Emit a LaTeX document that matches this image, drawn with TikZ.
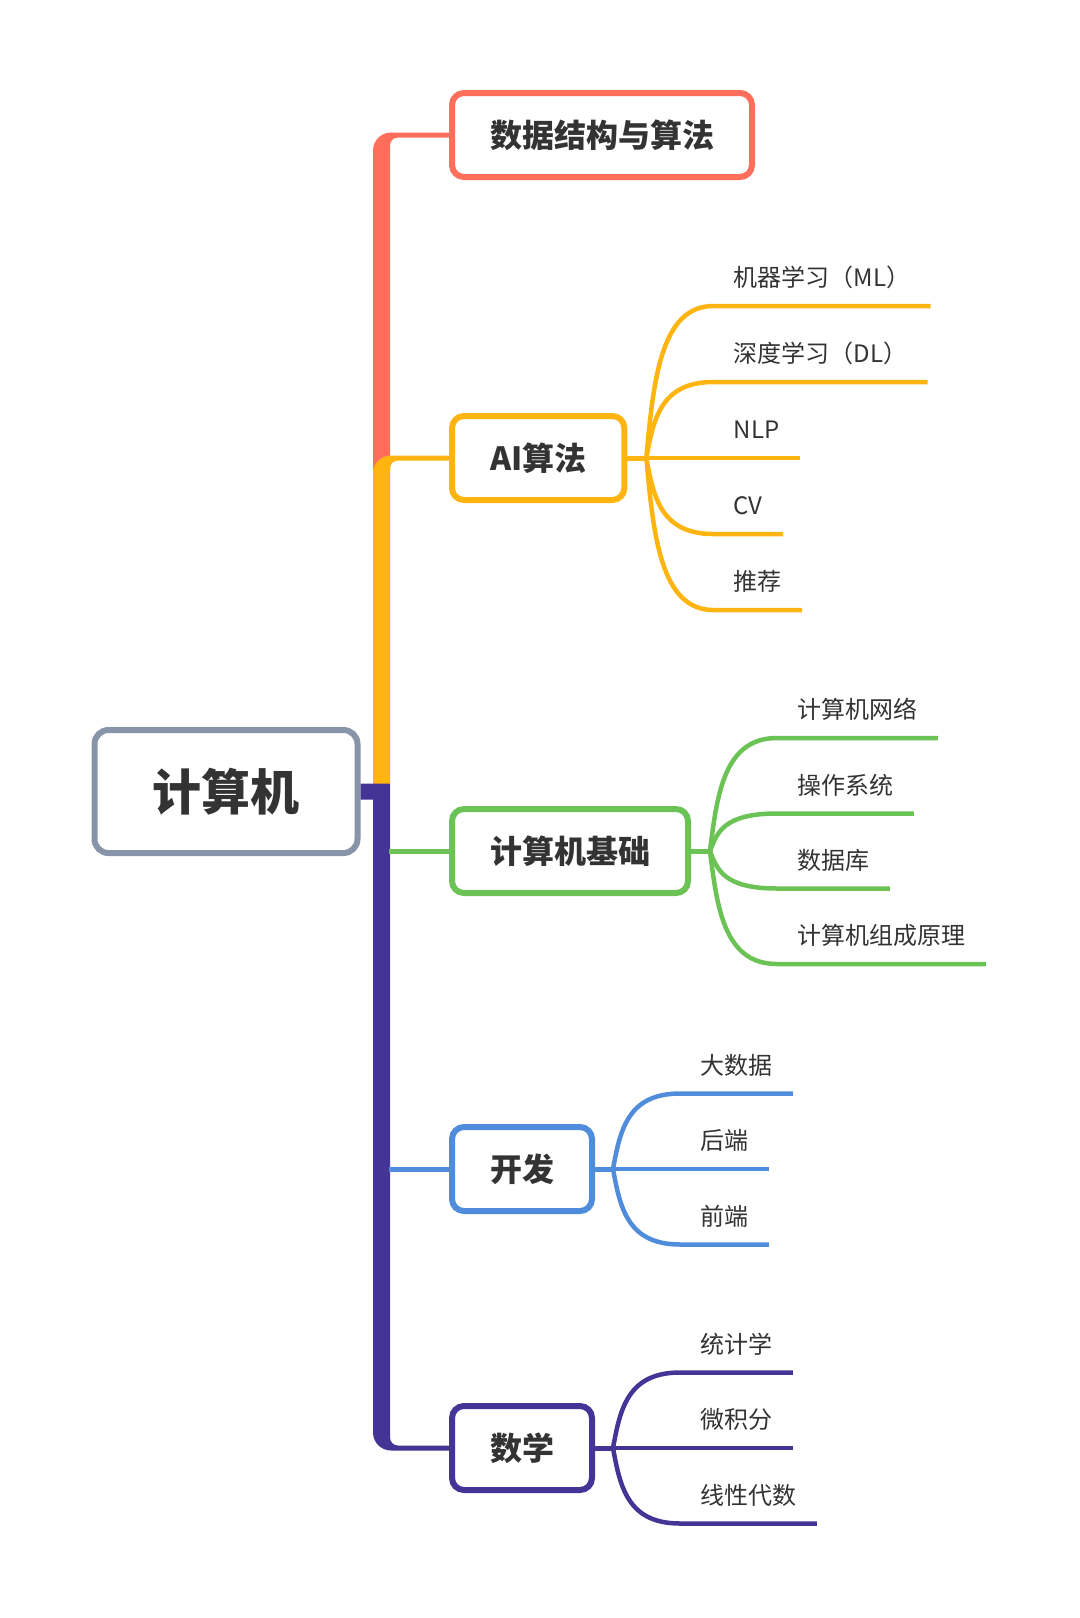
\documentclass[tikz,border=0pt]{standalone}
\usepackage{fontspec}
\setmainfont{Noto Sans CJK SC}
\usepackage{tikz}
\usetikzlibrary{calc,positioning}
\definecolor{cred}{HTML}{FF6E5A}
\definecolor{corange}{HTML}{FFB40F}
\definecolor{cgreen}{HTML}{6CC355}
\definecolor{cblue}{HTML}{508CDC}
\definecolor{cpurple}{HTML}{433496}
\definecolor{cgray}{HTML}{8894A8}
\definecolor{ctext}{HTML}{333333}
\tikzset{%
	root/.style  = {draw=cgray, line width=3pt, rounded corners=7pt, fill=white, minimum height=61.5pt, inner xsep=29pt, text=ctext, font=\bfseries\fontsize{24.5pt}{29pt}\selectfont},
	topic/.style = {draw, line width=3pt, rounded corners=6pt, fill=white, minimum height=42pt, inner xsep=19pt, anchor=west, text=ctext, font=\bfseries\fontsize{16pt}{19pt}\selectfont},
	leaf/.style  = {anchor=south west, inner xsep=10pt, inner ysep=6.5pt, text depth=3pt, text=ctext, font=\fontsize{12pt}{14pt}\selectfont},
	link/.style  = {line width=2.5pt}, % box to box
	twig/.style  = {line width=2.25pt}, % box to leaf
}
\begin{document}
\begin{tikzpicture}[x=0.5pt,y=-0.5pt]
	\useasboundingbox (0,0) rectangle (1080,1618);
	\node[root] (cs) at (226,791.5) {计算机};
	\node[topic,draw=cred] (ds) at (449,135) {数据结构与算法};
	\node[topic,draw=corange] (ai) at (449,458) {AI算法};
	\node[topic,draw=cgreen] (base) at (449,851) {计算机基础};
	\node[topic,draw=cblue] (dev) at (449,1169) {开发};
	\node[topic,draw=cpurple] (math) at (449,1448) {数学};
	\coordinate (tr) at (389,0);
	
	% trunk
	\fill[cred] (373,470) -- (373,150.5) arc[start angle=180,end angle=270,radius=18] -- ($(ds.west)+(0,-2.5)$) -- ($(ds.west)+(0,2.5)$) -- (398,137.5) arc[start angle=270,end angle=180,radius=8] -- (390,470) -- cycle;
	\fill[corange] (373,784) -- (373,473.5) arc[start angle=180,end angle=270,radius=18] -- ($(ai.west)+(0,-2.5)$) -- ($(ai.west)+(0,2.5)$) -- (398,460.5) arc[start angle=270,end angle=180,radius=8] -- (390,784) -- cycle;
	\fill[cpurple] ($(cs.east)+(0,-8)$) -- (390,783.5) -- (390,1437.5) arc[start angle=180,end angle=90,radius=8] -- ($(math.west)+(0,-2.5)$) -- ($(math.west)+(0,2.5)$) -- (391,1450.5) arc[start angle=90,end angle=180,radius=18] -- (373,799.5) -- ($(cs.east)+(0,8)$) -- cycle;
	\draw[link,cgreen] (base.west -| tr) -- (base.west);
	\draw[link,cblue] (dev.west -| tr) -- (dev.west);
	
	% AI
	\coordinate (aij) at ($(ai.east)+(19,0)$);
	\node[leaf] (ml) at ($(aij)+(67,-152)$) {机器学习（ML）};
	\node[leaf] (dl) at ($(aij)+(67,-76)$) {深度学习（DL）};
	\node[leaf] (nlp) at ($(aij)+(67,0)$) {NLP};
	\node[leaf] (cv) at ($(aij)+(67,76)$) {CV};
	\node[leaf] (rec) at ($(aij)+(67,152)$) {推荐};
	\draw[link,corange] (ai.east) -- (aij);
	\foreach \n in {ml,dl,nlp,cv,rec}
		\draw[twig,corange] (aij) .. controls ($(aij)!.5!(aij |- \n.south west)+(7,0)$) and ($(aij |- \n.south west)+(14,0)$) .. (\n.south west) -- (\n.south east);
	
	% base
	\coordinate (basej) at ($(base.east)+(19,0)$);
	\node[leaf] (net) at ($(basej)+(67,-113)$) {计算机网络};
	\node[leaf] (os) at ($(basej)+(67,-37.5)$) {操作系统};
	\node[leaf] (db) at ($(basej)+(67,37.5)$) {数据库};
	\node[leaf] (arch) at ($(basej)+(67,113)$) {计算机组成原理};
	\draw[link,cgreen] (base.east) -- (basej);
	\foreach \n in {net,os,db,arch}
		\draw[twig,cgreen] (basej) .. controls ($(basej)!.5!(basej |- \n.south west)+(7,0)$) and ($(basej |- \n.south west)+(14,0)$) .. (\n.south west) -- (\n.south east);
	
	% dev
	\coordinate (devj) at ($(dev.east)+(18,0)$);
	\node[leaf] (big) at ($(devj)+(67,-75.5)$) {大数据};
	\node[leaf] (back) at ($(devj)+(67,0)$) {后端};
	\node[leaf] (front) at ($(devj)+(67,75.5)$) {前端};
	\draw[link,cblue] (dev.east) -- (devj);
	\foreach \n in {big,back,front}
		\draw[twig,cblue] (devj) .. controls ($(devj)!.5!(devj |- \n.south west)+(7,0)$) and ($(devj |- \n.south west)+(14,0)$) .. (\n.south west) -- (\n.south east);
	
	% math
	\coordinate (mathj) at ($(math.east)+(18,0)$);
	\node[leaf] (stat) at ($(mathj)+(67,-75.5)$) {统计学};
	\node[leaf] (calc) at ($(mathj)+(67,0)$) {微积分};
	\node[leaf] (lin) at ($(mathj)+(67,75.5)$) {线性代数};
	\draw[link,cpurple] (math.east) -- (mathj);
	\foreach \n in {stat,calc,lin}
		\draw[twig,cpurple] (mathj) .. controls ($(mathj)!.5!(mathj |- \n.south west)+(7,0)$) and ($(mathj |- \n.south west)+(14,0)$) .. (\n.south west) -- (\n.south east);
\end{tikzpicture}
\end{document}
